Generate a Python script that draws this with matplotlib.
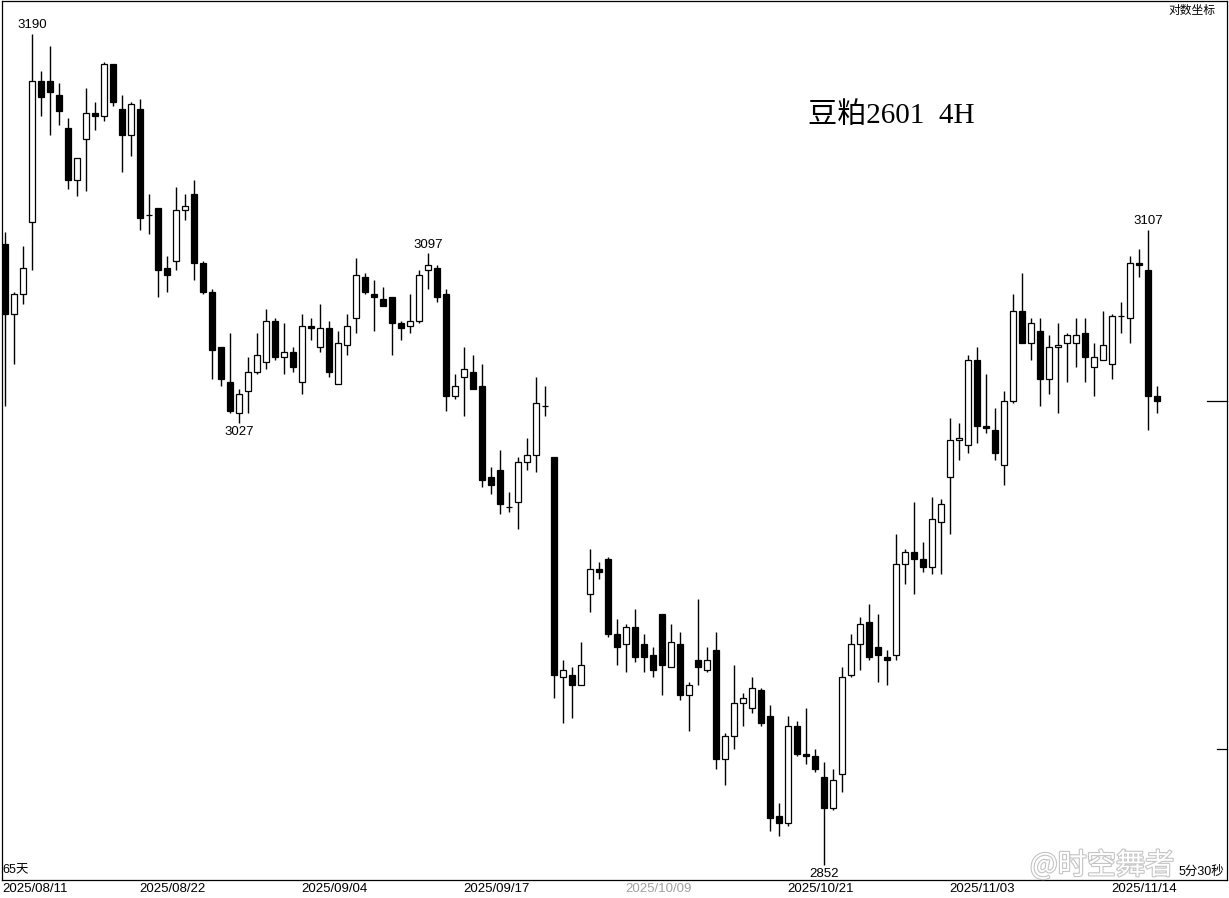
import numpy as np
from matplotlib import pyplot as plt
import matplotlib.patheffects as pe

# 4H bars, soybean meal 2601
opens = [3101, 3072, 3080, 3110, 3170, 3170, 3164, 3150, 3128, 3145,
         3156, 3155, 3177, 3158, 3147, 3158, 3113, 3116, 3091, 3094,
         3115, 3122, 3093, 3081, 3058, 3044, 3031, 3040, 3048, 3052,
         3069, 3054, 3056, 3044, 3067, 3058, 3066, 3043, 3059, 3070,
         3087, 3080, 3078, 3079, 3068, 3067, 3069, 3090, 3091, 3080,
         3038, 3046, 3048, 3042, 3005, 3008, 2993, 2995, 3011, 3014,
         3034, 3013, 2925, 2926, 2922, 2958, 2968, 2972, 2942, 2938,
         2945, 2938, 2934, 2950, 2929, 2938, 2918, 2932, 2928, 2936,
         2893, 2902, 2915, 2913, 2920, 2910, 2871, 2868, 2906, 2895,
         2894, 2886, 2874, 2887, 2926, 2938, 2947, 2937, 2933, 2934,
         2970, 2975, 2972, 2969, 2987, 3005, 3020, 3018, 3053, 3026,
         3024, 3010, 3036, 3073, 3060, 3065, 3045, 3058, 3060, 3060,
         3064, 3050, 3053, 3051, 3071, 3070, 3093, 3090, 3038]
highs = [3106, 3081, 3100, 3190, 3174, 3185, 3169, 3154, 3137, 3167,
         3161, 3178, 3177, 3164, 3161, 3162, 3122, 3116, 3096, 3125,
         3122, 3128, 3094, 3082, 3058, 3064, 3041, 3054, 3064, 3074,
         3070, 3068, 3058, 3072, 3070, 3076, 3069, 3065, 3072, 3095,
         3089, 3086, 3083, 3079, 3069, 3080, 3090, 3097, 3092, 3082,
         3047, 3058, 3055, 3051, 3009, 3016, 2999, 3013, 3021, 3046,
         3042, 3013, 2932, 2929, 2939, 2976, 2971, 2973, 2948, 2946,
         2952, 2942, 2937, 2950, 2946, 2943, 2923, 2956, 2937, 2943,
         2903, 2930, 2919, 2925, 2921, 2914, 2876, 2910, 2908, 2913,
         2897, 2892, 2889, 2929, 2942, 2949, 2954, 2950, 2936, 2982,
         2976, 2995, 2979, 2997, 2996, 3029, 3027, 3055, 3058, 3047,
         3033, 3040, 3080, 3089, 3070, 3070, 3063, 3068, 3064, 3070,
         3070, 3060, 3073, 3072, 3077, 3096, 3099, 3107, 3042]
lows = [3034, 3051, 3076, 3090, 3155, 3147, 3151, 3124, 3121, 3123,
        3149, 3153, 3159, 3131, 3138, 3107, 3105, 3079, 3081, 3090,
        3111, 3086, 3080, 3045, 3042, 3031, 3027, 3031, 3047, 3049,
        3053, 3047, 3048, 3039, 3061, 3056, 3046, 3043, 3055, 3064,
        3080, 3065, 3075, 3055, 3061, 3064, 3068, 3082, 3077, 3032,
        3037, 3030, 3041, 3001, 2998, 2990, 2991, 2984, 3008, 3007,
        3030, 2917, 2907, 2909, 2922, 2951, 2964, 2941, 2930, 2927,
        2931, 2927, 2925, 2918, 2929, 2916, 2904, 2922, 2927, 2889,
        2883, 2897, 2906, 2911, 2906, 2865, 2863, 2867, 2894, 2891,
        2888, 2852, 2873, 2880, 2925, 2928, 2932, 2923, 2922, 2932,
        2962, 2958, 2967, 2966, 2966, 2982, 3012, 3015, 3019, 3023,
        3012, 3002, 3035, 3060, 3053, 3034, 3039, 3031, 3044, 3050,
        3044, 3038, 3053, 3045, 3064, 3060, 3087, 3024, 3031]
closes = [3072, 3080, 3091, 3170, 3163, 3165, 3157, 3128, 3137, 3156,
          3155, 3177, 3161, 3147, 3160, 3112, 3113, 3090, 3088, 3115,
          3117, 3093, 3081, 3057, 3045, 3032, 3039, 3048, 3055, 3069,
          3054, 3056, 3050, 3067, 3066, 3066, 3048, 3060, 3067, 3088,
          3081, 3079, 3075, 3068, 3066, 3069, 3088, 3092, 3079, 3038,
          3042, 3049, 3041, 3004, 3002, 2994, 2993, 3011, 3014, 3035,
          3034, 2926, 2928, 2922, 2930, 2968, 2967, 2942, 2937, 2945,
          2933, 2933, 2928, 2930, 2939, 2918, 2922, 2929, 2932, 2893,
          2902, 2915, 2917, 2921, 2907, 2870, 2868, 2906, 2895, 2894,
          2889, 2874, 2885, 2925, 2938, 2946, 2933, 2934, 2932, 2970,
          2975, 2972, 2969, 2988, 2994, 3020, 3021, 3053, 3026, 3025,
          3015, 3036, 3073, 3060, 3068, 3045, 3058, 3059, 3063, 3063,
          3054, 3054, 3059, 3071, 3071, 3093, 3092, 3038, 3036]

# labelled extremes: (bar index, which end)
marks = [(3, 'high'), (26, 'low'), (47, 'high'), (91, 'low'), (127, 'high')]

date_idx = [0, 18, 36, 54, 72, 90, 108, 126]
date_labels = ['2025/08/11', '2025/08/22', '2025/09/04', '2025/09/17',
               '2025/10/09', '2025/10/21', '2025/11/03', '2025/11/14']

scale_mark = 2897
title = '豆粕2601  4H'


def plot_candles():
    o = np.array(opens, dtype=float)
    h = np.array(highs, dtype=float)
    l = np.array(lows, dtype=float)
    c = np.array(closes, dtype=float)
    x = np.arange(len(o))

    W, H = 1229, 898
    fig = plt.figure(figsize=(W / 100, H / 100), dpi=100)
    ax = fig.add_axes([2 / W, 18 / H, 1225 / W, 879 / H])
    ax.set_yscale('log')

    ax.vlines(x, l, h, color='black', lw=1.0, zorder=2)
    up = c >= o
    bot = np.minimum(o, c)
    hgt = np.abs(c - o)
    ax.bar(x[up], hgt[up], bottom=bot[up], width=0.74, facecolor='white',
           edgecolor='black', linewidth=0.9, zorder=3)
    ax.bar(x[~up], hgt[~up], bottom=bot[~up], width=0.74, facecolor='black',
           edgecolor='black', linewidth=0.9, zorder=3)

    for i, kind in marks:
        if kind == 'high':
            ax.annotate('%d' % h[i], (i, h[i]), xytext=(0, 2), textcoords='offset points',
                        ha='center', va='bottom', fontsize=9.5, family='Liberation Sans')
        else:
            ax.annotate('%d' % l[i], (i, l[i]), xytext=(0, -2), textcoords='offset points',
                        ha='center', va='top', fontsize=9.5, family='Liberation Sans')

    ax.set_xlim(-1 / 3, 135.78)
    ax.set_ylim(2846.2, 3204.2)
    ax.set_xticks([])
    ax.set_yticks([])
    ax.set_yticks([], minor=True)
    for s in ax.spines.values():
        s.set_linewidth(0.9)

    # last price marker and scale tick on the right edge
    tr = ax.get_yaxis_transform()
    ax.plot([0.9837, 1.0], [c[-1], c[-1]], color='black', lw=0.9, transform=tr, clip_on=False)
    ax.plot([0.9918, 1.0], [scale_mark, scale_mark], color='black', lw=0.9, transform=tr, clip_on=False)

    xt = ax.get_xaxis_transform()
    for k, (i, lab) in enumerate(zip(date_idx, date_labels)):
        col = '#a0a0a0' if lab == '2025/10/09' else 'black'
        if k == 0:
            ax.text(-0.3, -0.0102, lab, transform=xt, ha='left', va='center',
                    fontsize=9.5, family='Liberation Sans', color=col)
        else:
            ax.text(i + 0.6, -0.0102, lab, transform=xt, ha='center', va='center',
                    fontsize=9.5, family='Liberation Sans', color=col)

    fig.text(808 / W, 1 - 116 / H, title, fontsize=21, va='center', ha='left',
             family=['Liberation Serif', 'Noto Sans CJK SC'])
    fig.text(1215 / W, 1 - 10 / H, '对数坐标', fontsize=8.5, va='center', ha='right',
             family='Noto Sans CJK SC')
    fig.text(2 / W, 1 - 870 / H, '65天', fontsize=9, va='center', ha='left',
             family=['Liberation Sans', 'Noto Sans CJK SC'])
    fig.text(1224 / W, 1 - 872 / H, '5分30秒', fontsize=9, va='center', ha='right',
             family=['Liberation Sans', 'Noto Sans CJK SC'])
    fig.text(1174 / W, 1 - 866 / H, '@时空舞者', fontsize=21, va='center', ha='right',
             family=['Noto Sans CJK SC', 'DejaVu Sans'], color='white',
             path_effects=[pe.withStroke(linewidth=1.6, foreground='#c4c4c4')])

    plt.savefig('out.png', dpi=100)


if __name__ == '__main__':
    plot_candles()
